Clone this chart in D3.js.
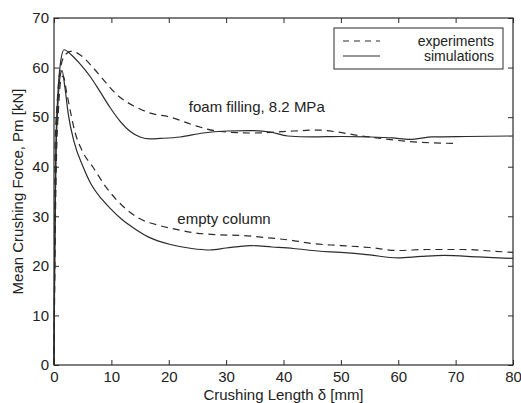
<!DOCTYPE html>
<html>
<head>
<meta charset="utf-8">
<script src="https://cdn.jsdelivr.net/npm/d3@7"></script>
<style>
	body { margin: 0; background: #fff; }
	text { font-family: "Liberation Sans", Arial, sans-serif; fill: #222; }
</style>
</head>
<body>
<div id="chart"></div>
<script>
// values: [crushing length mm, mean force kN]
var foamExp = [[0, 0], [0.1, 20], [0.2, 45], [0.5, 52], [1.0, 59], [1.9, 62.5], [3.1, 63.3], [4.5, 62.6],
	[6.8, 60], [9, 57], [11, 54.5], [14, 52.2], [16.8, 50.8], [20.3, 50], [24.3, 48.4], [29, 47.1],
	[34.8, 46.8], [41.7, 47.2], [46, 47.4], [49.4, 47], [53, 46.3], [57, 45.7], [62.7, 45], [70, 44.7]];
var foamSim = [[0, 0], [0.15, 25], [0.35, 45], [0.7, 55], [1.2, 61.5], [1.75, 63.6], [3, 62.6], [4.5, 60.8],
	[6.3, 58.2], [8, 55.2], [9.8, 51.9], [11.5, 49.2], [13.3, 47.1], [15, 46], [16.8, 45.6], [18.5, 45.7],
	[22, 46], [26, 46.8], [30.2, 47.2], [34, 47.3], [37.7, 47], [40.7, 46.2], [45, 46], [50, 46.1],
	[55, 46], [59, 45.8], [62, 45.5], [66, 46], [72, 46.1], [80, 46.2]];
var emptyExp = [[0, 0], [0.15, 20], [0.4, 40], [0.8, 52], [1.2, 57.5], [1.6, 58.3], [2.2, 55],
	[3.7, 46.8], [5, 43], [6.8, 39.9], [9, 36], [11, 33.2], [14.5, 29.8], [18.5, 28.1], [20.3, 27.6],
	[24.3, 26.7], [28, 26.3], [33, 26.1], [37, 25.7], [41.7, 25.1], [45, 24.5], [50, 24.1],
	[55, 23.7], [59.9, 23.1], [65, 23.3], [71.4, 23.3], [76, 23], [80, 22.7]];
var emptySim = [[0, 0], [0.1, 20], [0.3, 40], [0.7, 53], [1.1, 58.5], [1.4, 59.4], [1.9, 56], [2.5, 50.5],
	[3.5, 45], [5.1, 39.9], [6.6, 36.2], [8.3, 33.5], [9.8, 31.6], [11.8, 29.4], [13.8, 27.7], [16.5, 25.8],
	[20.3, 24.3], [24, 23.5], [27.2, 23.2], [30, 23.6], [34.2, 24.1], [38, 23.8], [41.7, 23.5],
	[46, 23], [50, 22.7], [55, 22.2], [59.9, 21.6], [64, 21.9], [68, 22.1], [74, 21.8], [80, 21.5]];

var xTicks = [0, 10, 20, 30, 40, 50, 60, 70, 80];
var yTicks = [0, 10, 20, 30, 40, 50, 60, 70];
var legendItems = ["experiments", "simulations"];

var width = 521, height = 403;
var margin = {left: 54, right: 8, top: 18, bottom: 38};

var svg = d3.select('#chart').append('svg')
	.attr('width', width)
	.attr('height', height);

var x = d3.scaleLinear().domain([0, 80]).range([margin.left, width - margin.right]);
var y = d3.scaleLinear().domain([0, 70]).range([height - margin.bottom, margin.top]);

var ink = '#2b2b2b';

// frame with inward ticks on all sides
svg.append('rect')
	.attr('x', x(0)).attr('y', y(70))
	.attr('width', x(80) - x(0)).attr('height', y(0) - y(70))
	.attr('fill', 'none').attr('stroke', ink).attr('stroke-width', 1.2);

function styleAxis(g) {
	g.select('.domain').remove();
	g.selectAll('.tick line').attr('stroke', ink);
	g.selectAll('.tick text').style('font-size', '15px').attr('fill', '#222');
}

svg.append('g')
	.attr('transform', 'translate(0,' + y(0) + ')')
	.call(d3.axisBottom(x).tickValues(xTicks).tickSize(-5).tickPadding(6).tickFormat(d3.format('d')))
	.call(styleAxis);
svg.append('g')
	.attr('transform', 'translate(0,' + y(70) + ')')
	.call(d3.axisTop(x).tickValues(xTicks).tickSize(-5).tickFormat(''))
	.call(styleAxis);
svg.append('g')
	.attr('transform', 'translate(' + x(0) + ',0)')
	.call(d3.axisLeft(y).tickValues(yTicks).tickSize(-5).tickPadding(5).tickFormat(d3.format('d')))
	.call(styleAxis);
svg.append('g')
	.attr('transform', 'translate(' + x(80) + ',0)')
	.call(d3.axisRight(y).tickValues(yTicks).tickSize(-5).tickFormat(''))
	.call(styleAxis);

// curves
var line = d3.line()
	.x(function (d) { return x(d[0]); })
	.y(function (d) { return y(d[1]); })
	.curve(d3.curveMonotoneX);

var series = [
	{data: foamExp, dash: '7,5'},
	{data: foamSim, dash: null},
	{data: emptyExp, dash: '7,5'},
	{data: emptySim, dash: null}
];

svg.append('g').selectAll('path').data(series)
	.enter().append('path')
	.attr('d', function (s) { return line(s.data); })
	.attr('fill', 'none')
	.attr('stroke', ink)
	.attr('stroke-width', 1.2)
	.attr('stroke-dasharray', function (s) { return s.dash; });

// annotations
svg.append('text').attr('x', x(23.5)).attr('y', y(51)).style('font-size', '15px').text('foam filling, 8.2 MPa');
svg.append('text').attr('x', x(21.5)).attr('y', y(28.5)).style('font-size', '15px').text('empty column');

// legend
var lg = svg.append('g');
lg.append('rect')
	.attr('x', 334).attr('y', 28).attr('width', 169).attr('height', 41)
	.attr('fill', '#fff').attr('stroke', ink).attr('stroke-width', 1);
lg.selectAll('line').data(legendItems)
	.enter().append('line')
	.attr('x1', 343).attr('x2', 380)
	.attr('y1', function (d, i) { return 41 + i * 15; })
	.attr('y2', function (d, i) { return 41 + i * 15; })
	.attr('stroke', ink).attr('stroke-width', 1)
	.attr('stroke-dasharray', function (d, i) { return i === 0 ? '6,5' : null; });
lg.selectAll('text').data(legendItems)
	.enter().append('text')
	.attr('x', 494)
	.attr('y', function (d, i) { return 46 + i * 15; })
	.attr('text-anchor', 'end')
	.style('font-size', '14px')
	.text(function (d) { return d; });

// axis titles
svg.append('text')
	.attr('x', x(40)).attr('y', 400)
	.attr('text-anchor', 'middle')
	.style('font-size', '15px')
	.text('Crushing Length δ [mm]');
svg.append('text')
	.attr('transform', 'translate(23,' + y(35) + ') rotate(-90)')
	.attr('text-anchor', 'middle')
	.style('font-size', '15px')
	.text('Mean Crushing Force, Pm [kN]');
</script>
</body>
</html>
